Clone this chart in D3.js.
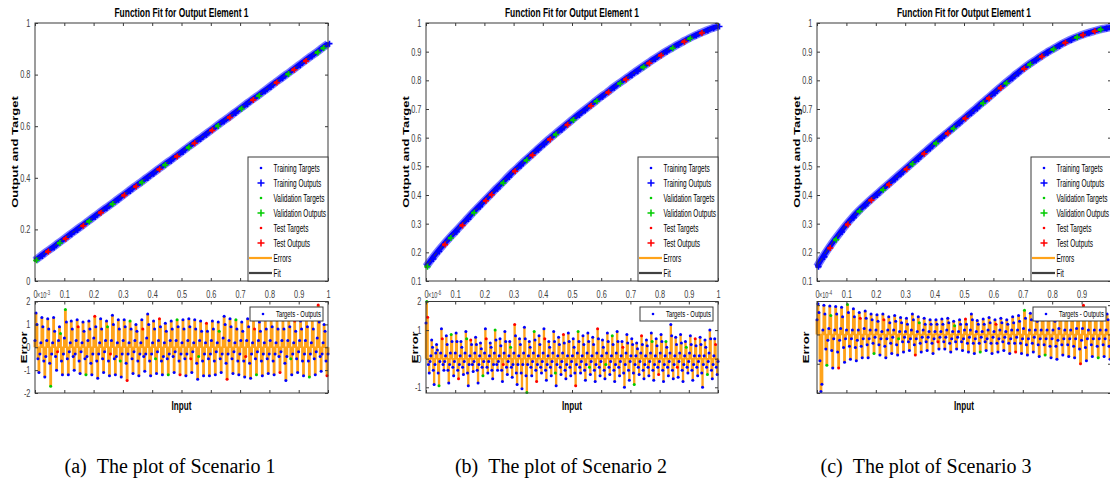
<!DOCTYPE html>
<html>
<head>
<meta charset="utf-8">
<script src="https://cdn.jsdelivr.net/npm/d3@7"></script>
<style>
  body { margin: 0; background: #fff; }
  svg { display: block; }
</style>
</head>
<body>
<svg width="1110" height="484"></svg>
<script>
// ---- data ----
const fitStep = 0.02
const fit1 = [0.080, 0.097, 0.114, 0.130, 0.147, 0.164, 0.181, 0.198, 0.214, 0.231,
  0.248, 0.265, 0.282, 0.298, 0.315, 0.332, 0.349, 0.366, 0.382, 0.399,
  0.416, 0.433, 0.450, 0.466, 0.483, 0.500, 0.517, 0.534, 0.550, 0.567,
  0.584, 0.601, 0.618, 0.634, 0.651, 0.668, 0.685, 0.702, 0.718, 0.735,
  0.752, 0.769, 0.786, 0.802, 0.819, 0.836, 0.853, 0.870, 0.886, 0.903, 0.920]
const fit2 = [0.150, 0.177, 0.203, 0.227, 0.250, 0.272, 0.294, 0.316, 0.338, 0.359,
  0.380, 0.401, 0.422, 0.442, 0.463, 0.483, 0.502, 0.521, 0.539, 0.558,
  0.576, 0.594, 0.611, 0.628, 0.645, 0.662, 0.679, 0.695, 0.711, 0.727,
  0.743, 0.758, 0.774, 0.789, 0.803, 0.818, 0.832, 0.846, 0.860, 0.874,
  0.887, 0.900, 0.912, 0.924, 0.935, 0.946, 0.956, 0.965, 0.974, 0.982, 0.988]
const fit3 = [0.150, 0.184, 0.215, 0.244, 0.271, 0.297, 0.321, 0.343, 0.363, 0.382,
  0.400, 0.418, 0.436, 0.454, 0.472, 0.490, 0.508, 0.526, 0.544, 0.562,
  0.580, 0.598, 0.615, 0.632, 0.650, 0.667, 0.685, 0.702, 0.720, 0.737,
  0.755, 0.773, 0.790, 0.807, 0.824, 0.840, 0.855, 0.869, 0.883, 0.896,
  0.908, 0.920, 0.931, 0.941, 0.950, 0.958, 0.965, 0.971, 0.977, 0.981, 0.985]
// b = training, g = validation, r = test
const fitSets1 = "gbrbgrbbrgbrbgbrbrgbbrgbrbgrbbrgbrbgbrgbbrbgrbrbgg"
const fitSets2 = "gbbrgbrbgbrrbgbrbgrbbrgbrgbbrgbrbgrbbgrbrbgbrgbrbb"
const fitSets3 = "bbrgbrbgbrbgrbbrgbrbgbrgbrbbgrbrgbbrgbrbgbrbgrbrgb"

// errors, one cycle per row: [rise, peak, fall, dip, trough, back]
const err1 = [ // x 1e-3
  [0.3,1.5,1.0,-0.5,-1.1,-0.3], [0.2,1.3,0.9,-0.6,-1.3,-0.4], [0.3,1.25,0.8,-0.7,-1.7,-0.3],
  [0.2,1.3,0.7,-0.4,-1.0,-0.2], [0.3,0.9,0.6,-0.6,-1.2,-0.3], [0.4,1.65,1.1,-0.5,-1.2,-0.2],
  [0.2,1.15,0.8,-0.4,-1.0,-0.3], [0.3,1.2,0.9,-0.6,-1.15,-0.2], [0.2,1.1,0.7,-0.5,-1.2,-0.4],
  [0.3,1.15,0.8,-0.7,-1.2,-0.3], [0.4,1.35,0.9,-0.6,-1.35,-0.3], [0.2,1.25,0.8,-0.5,-1.1,-0.2],
  [0.3,1.15,0.9,-0.6,-1.25,-0.3], [0.3,1.4,1.0,-0.5,-1.2,-0.4], [0.2,1.2,0.8,-0.6,-1.3,-0.3],
  [0.3,1.2,0.9,-0.7,-1.45,-0.3], [0.2,1.15,0.8,-0.5,-1.15,-0.2], [0.3,1.0,0.7,-0.6,-1.25,-0.3],
  [0.2,1.2,0.8,-0.4,-1.05,-0.3], [0.4,1.45,1.0,-0.6,-1.25,-0.3], [0.2,1.15,0.8,-0.5,-1.15,-0.2],
  [0.3,1.25,0.9,-0.6,-1.2,-0.4], [0.2,1.05,0.7,-0.5,-1.2,-0.3], [0.3,1.15,0.8,-0.4,-1.1,-0.2],
  [0.3,1.2,0.9,-0.6,-1.2,-0.3], [0.2,1.2,0.8,-0.5,-1.25,-0.3], [0.3,1.25,0.9,-0.5,-1.1,-0.2],
  [0.2,1.2,0.8,-0.7,-1.4,-0.4], [0.3,1.15,0.7,-0.6,-1.25,-0.3], [0.2,1.05,0.7,-0.5,-1.25,-0.3],
  [0.3,1.15,0.8,-0.6,-1.2,-0.2], [0.2,1.1,0.7,-0.5,-1.1,-0.3], [0.4,1.35,1.0,-0.7,-1.4,-0.3],
  [0.3,1.25,0.9,-0.5,-1.15,-0.2], [0.2,1.2,0.8,-0.6,-1.2,-0.3], [0.3,1.1,0.7,-0.6,-1.3,-0.4],
  [0.3,1.25,0.9,-0.7,-1.35,-0.3], [0.2,1.2,0.8,-0.5,-1.2,-0.2], [0.3,1.1,0.7,-0.6,-1.25,-0.3],
  [0.2,1.2,0.8,-0.5,-1.15,-0.3], [0.3,1.25,0.9,-0.6,-1.2,-0.3], [0.2,1.2,0.8,-0.4,-1.1,-0.2],
  [0.3,1.2,0.8,-0.7,-1.45,-0.4], [0.3,1.25,0.9,-0.5,-1.2,-0.3], [0.2,1.15,0.7,-0.5,-1.1,-0.2],
  [0.3,1.15,0.8,-0.6,-1.25,-0.3], [0.3,1.3,0.9,-0.6,-1.3,-0.3], [0.2,1.2,0.8,-0.5,-1.2,-0.2],
  [0.4,1.85,1.1,-0.4,-1.05,-0.3], [0.2,1.0,0.7,-0.6,-1.25,-0.3]]
const err2 = [ // x 1e-6
  [1.25,2.0,1.45,-0.2,-0.5,-0.1], [0.1,0.65,0.4,-0.4,-0.9,-0.2], [0.2,0.5,0.3,-0.5,-0.95,-0.1],
  [0.2,1.05,0.7,-0.2,-0.4,-0.1], [0.1,0.8,0.5,-0.4,-0.85,-0.2], [0.2,0.85,0.6,-0.3,-0.6,-0.1],
  [0.2,0.9,0.6,-0.4,-0.7,-0.2], [0.1,0.6,0.4,-0.3,-0.55,-0.1], [0.2,0.95,0.7,-0.5,-0.95,-0.2],
  [0.1,0.65,0.5,-0.2,-0.45,-0.1], [0.2,0.75,0.5,-0.4,-0.85,-0.2], [0.1,0.55,0.35,-0.3,-0.6,-0.1],
  [0.2,1.05,0.7,-0.3,-0.5,-0.1], [0.1,0.55,0.4,-0.4,-0.7,-0.2], [0.2,1.0,0.65,-0.2,-0.4,-0.1],
  [0.1,0.7,0.45,-0.4,-0.8,-0.2], [0.2,0.95,0.6,-0.3,-0.55,-0.1], [0.1,0.6,0.4,-0.3,-0.65,-0.2],
  [0.2,1.2,0.8,-0.5,-0.9,-0.2], [0.1,0.7,0.5,-0.5,-1.05,-0.2], [0.2,1.1,0.7,-0.6,-1.18,-0.2],
  [0.1,0.6,0.4,-0.3,-0.6,-0.1], [0.2,0.95,0.65,-0.4,-0.8,-0.2], [0.1,0.8,0.5,-0.3,-0.5,-0.1],
  [0.2,1.05,0.7,-0.4,-0.75,-0.2], [0.1,0.6,0.4,-0.3,-0.6,-0.1], [0.2,0.95,0.6,-0.5,-0.95,-0.2],
  [0.1,0.75,0.5,-0.3,-0.55,-0.1], [0.2,0.85,0.55,-0.4,-0.7,-0.2], [0.1,0.9,0.6,-0.3,-0.6,-0.1],
  [0.1,0.7,0.4,-0.5,-0.95,-0.2], [0.2,0.95,0.6,-0.3,-0.5,-0.1], [0.1,0.8,0.5,-0.4,-0.75,-0.2],
  [0.2,0.9,0.6,-0.3,-0.55,-0.1], [0.1,0.75,0.5,-0.4,-0.8,-0.2], [0.2,1.05,0.7,-0.3,-0.6,-0.1],
  [0.1,0.65,0.4,-0.4,-0.7,-0.2], [0.2,0.9,0.6,-0.3,-0.55,-0.1], [0.1,0.8,0.5,-0.4,-0.8,-0.2],
  [0.2,0.95,0.6,-0.3,-0.6,-0.1], [0.1,0.6,0.4,-0.5,-1.0,-0.2], [0.2,0.85,0.55,-0.4,-0.75,-0.1],
  [0.1,0.7,0.5,-0.5,-0.9,-0.2], [0.1,0.55,0.35,-0.3,-0.55,-0.1], [0.2,0.8,0.5,-0.4,-0.7,-0.2],
  [0.1,0.65,0.45,-0.3,-0.6,-0.1], [0.2,0.9,0.6,-0.4,-0.75,-0.2], [0.1,0.7,0.45,-0.3,-0.55,-0.1],
  [0.2,0.85,0.6,-0.4,-0.8,-0.2], [0.1,0.6,0.4,-0.3,-0.6,-0.1], [0.2,1.2,0.8,-0.4,-0.7,-0.2],
  [0.1,0.75,0.5,-0.3,-0.65,-0.1], [0.2,0.85,0.55,-0.4,-0.8,-0.2], [0.1,0.6,0.4,-0.3,-0.5,-0.1],
  [0.2,0.8,0.5,-0.4,-0.75,-0.2], [0.1,0.7,0.45,-0.3,-0.6,-0.1], [0.1,0.75,0.5,-0.5,-1.0,-0.2],
  [0.1,0.65,0.4,-0.3,-0.55,-0.1], [0.2,1.0,0.7,-0.4,-0.7,-0.2], [0.1,0.7,0.5,-0.3,-0.55,-0.1]]
const err3 = [ // x 1e-4
  [1.0,2.1,1.5,-1.8,-3.9,-3.4], [0.3,2.0,1.4,-1.0,-2.1,-0.4], [0.4,1.95,1.3,-1.1,-2.3,-0.3],
  [0.3,1.9,1.4,-1.2,-2.3,-0.4], [0.4,1.85,1.2,-0.9,-1.9,-0.3], [0.3,2.05,1.5,-0.8,-1.7,-0.3],
  [0.3,1.75,1.2,-0.9,-1.8,-0.4], [0.3,1.5,1.1,-0.8,-1.6,-0.3], [0.4,1.6,1.1,-0.7,-1.6,-0.3],
  [0.3,1.4,1.0,-0.6,-1.3,-0.2], [0.3,1.35,0.9,-0.7,-1.4,-0.3], [0.2,1.4,1.0,-0.8,-1.6,-0.3],
  [0.3,1.2,0.8,-0.6,-1.3,-0.2], [0.3,1.3,0.9,-0.7,-1.4,-0.3], [0.2,1.15,0.8,-0.5,-1.2,-0.2],
  [0.2,1.1,0.7,-0.5,-1.1,-0.3], [0.3,1.4,1.0,-0.7,-1.4,-0.3], [0.2,1.2,0.8,-0.6,-1.2,-0.2],
  [0.3,1.1,0.7,-0.5,-1.1,-0.2], [0.2,1.0,0.7,-0.6,-1.3,-0.3], [0.2,1.0,0.7,-0.5,-1.0,-0.2],
  [0.2,1.05,0.7,-0.5,-1.0,-0.2], [0.3,1.1,0.8,-0.6,-1.2,-0.3], [0.2,0.9,0.6,-0.5,-1.0,-0.2],
  [0.2,1.0,0.7,-0.5,-1.1,-0.3], [0.3,1.05,0.7,-0.6,-1.2,-0.2], [0.3,1.4,1.0,-0.6,-1.3,-0.3],
  [0.2,0.95,0.7,-0.6,-1.2,-0.2], [0.2,1.05,0.7,-0.5,-1.1,-0.3], [0.3,1.15,0.8,-0.6,-1.3,-0.2],
  [0.2,1.0,0.7,-0.6,-1.2,-0.3], [0.3,1.1,0.8,-0.5,-1.1,-0.2], [0.2,1.0,0.7,-0.6,-1.3,-0.3],
  [0.3,1.2,0.8,-0.6,-1.2,-0.2], [0.3,1.3,0.9,-0.6,-1.3,-0.3], [0.4,1.65,1.1,-0.7,-1.4,-0.3],
  [0.3,1.45,1.0,-0.6,-1.2,-0.2], [0.3,1.3,0.9,-0.7,-1.5,-0.3], [0.3,1.4,1.0,-0.7,-1.4,-0.3],
  [0.3,1.4,1.0,-0.8,-1.6,-0.3], [0.3,1.35,0.9,-0.8,-1.7,-0.4], [0.4,1.5,1.1,-0.7,-1.4,-0.3],
  [0.3,1.5,1.0,-0.7,-1.5,-0.3], [0.3,1.4,1.0,-0.8,-1.6,-0.3], [0.4,1.6,1.1,-1.0,-2.0,-0.4],
  [0.4,2.0,1.4,-0.9,-1.8,-0.3], [0.3,1.5,1.0,-0.7,-1.5,-0.3], [0.3,1.6,1.1,-0.8,-1.6,-0.3],
  [0.3,1.5,1.0,-0.7,-1.5,-0.3], [0.3,1.4,1.0,-0.8,-1.7,-0.4]]
const errSets1 = "bbbbbb bbbbbb bbbbgb bbbbbr bbgbbb bgbbbb bbbbbb bbrbbb bbbbgb bbbbbb " +
  "brbbbb bbbbbb bbgbbr bbbbbb bbbgbb bbbbrb bgbbbb bbbbbb bbrbbb bbbbbb " +
  "bbbgbb brbbbb bbbbgb bbbbbb bgbbrb bbbbbb bbbrbb bbbbbg bbbbbb brbbbb " +
  "bbbbbb bbgbbb bbbbrb bbbbbb bgbbbb bbbbbr bbbbbb bbrbgb bbbbbb bbbbbb " +
  "bgbbbb bbbbrb bbbbbb bbbgbb brbbbb bbbbbb bbbbgb bbbbbb brbbbb bbbbrb"
const errSets2 = "bgrbbb bbbbbb bbbbgb bbrbbb bbbbbb bgbbbb bbbbrb bbbbbb bbgbbb brbbbb " +
  "bbbbbb bbbbgb bbrbbb bbbbbb bgbbbb bbbbbr bbbbbb bbgbbb brbbbb bbbbbb " +
  "bbbbgb bbbbbb bgbbrb bbbbbb bbrbbb bbbbbb bbbgbb bbbbbb brbbbb bbbbbb " +
  "bbbbrb bgbbbb bbbbbb bbbgbb bbbbbb brbbbb bbbbbg bbbbbb bgbbbb bbbbbb " +
  "bbrbbb bbbbbb bbbbgb bbbbbb brbbbb bbbbbb bbgbbb bbbbrb bbbbbb bgbbbb " +
  "bbbbbb bbbrbb bbbbbb bbgbbb bbbbbb brbbbb bbbbbb bbbbgb bbbbbb bbrbbb"
const errSets3 = "bbbbbb bbbbgb bbgbbb bbbbrb bbbbbb bgbbbb bbbbbb bbrbbb bbbbbb bbbbgb " +
  "bbbbbb bbrbbb bbbbbb bbbbbg bbbbbb bbbbbb bbbbrb bbgbbb bbbbbb bbbbbb " +
  "bbbrbb bbbbbb bbbbbb bbgbbb bbbbbb brbbbb bbbbbb bbbbgb bbbbbb bbbbbb " +
  "bbrbbb bbbbbb bbbbbb bbbbrb bbbbbb bgbbbb bbbbbb bbbbbb bbrbgb bbbbbb " +
  "bbbbbb bbbbbb bbgbbb bbbbbb bbbbrb brbbbb bbbbbb bbbbgb bbbbbb bbbbbb"

const xTicks = [0, 0.1, 0.2, 0.3, 0.4, 0.5, 0.6, 0.7, 0.8, 0.9, 1]
const fitTicks1 = [0, 0.2, 0.4, 0.6, 0.8, 1]
const fitTicks23 = [0.1, 0.2, 0.3, 0.4, 0.5, 0.6, 0.7, 0.8, 0.9, 1]
const errTicks1 = [-2, -1, 0, 1, 2]
const errTicks2 = [-1, 0, 1, 2]
const errTicks3 = [-4, -2, 0, 2]
const errExponents = ['-3', '-6', '-4']
const legendLabels = ['Training Targets', 'Training Outputs', 'Validation Targets',
  'Validation Outputs', 'Test Targets', 'Test Outputs', 'Errors', 'Fit']
const captions = ['(a)\u2002The plot of Scenario 1', '(b)\u2002The plot of Scenario 2',
  '(c)\u2002The plot of Scenario 3']

// ---- layout ----
const panels = [
  {left: 35, right: 328, fit: fit1, fitSets: fitSets1, fitDomain: [0, 1], fitTicks: fitTicks1,
   err: err1, errSets: errSets1, errDomain: [-2, 2], errTicks: errTicks1, capX: 170},
  {left: 426, right: 718, fit: fit2, fitSets: fitSets2, fitDomain: [0.1, 1], fitTicks: fitTicks23,
   err: err2, errSets: errSets2, errDomain: [-1.2, 2], errTicks: errTicks2, capX: 561},
  {left: 817, right: 1111, fit: fit3, fitSets: fitSets3, fitDomain: [0.1, 1], fitTicks: fitTicks23,
   err: err3, errSets: errSets3, errDomain: [-4, 2.25], errTicks: errTicks3, capX: 926}
]
const fitTop = 23, fitBottom = 281, errTop = 301.5, errBottom = 393
const SX = 0.65               // the figure is squeezed horizontally
const SANS = "'Liberation Sans', Arial, Helvetica, sans-serif"
const setColor = {b: '#0000ff', g: '#00cc00', r: '#ff0000'}
const orange = '#ffa31a'
const axisColor = '#3a3a3a'

const svg = d3.select('svg')

function squeezed(g, x, y, txt, size, opts = {}) {
  let t = g.append('text')
    .attr('transform', `translate(${x},${y}) scale(${SX},1)` + (opts.rotate ? ' rotate(-90)' : ''))
    .attr('text-anchor', opts.anchor || 'start')
    .attr('font-family', SANS)
    .attr('font-size', size)
    .attr('font-weight', opts.bold ? 'bold' : 'normal')
    .attr('fill', opts.fill || '#000')
    .text(txt)
  return t
}

function ticks(g, axisFn, scale, tx, ty, values, withLabels, pad) {
  let ax = axisFn(scale)
    .tickValues(values)
    .tickSizeInner(-3)
    .tickSizeOuter(0)
    .tickPadding(pad || 3)
    .tickFormat(withLabels ? d => String(+d.toFixed(2)) : '')
  let a = g.append('g').attr('transform', `translate(${tx},${ty})`).call(ax)
  a.select('.domain').remove()
  a.selectAll('line').attr('stroke', axisColor)
  a.selectAll('text')
    .attr('font-family', SANS)
    .attr('font-size', 10.5)
    .attr('fill', '#404040')
    .attr('transform', 'scale(0.7,1)')
  // labels falling off the right edge of the page are not shown
  a.selectAll('.tick').filter(d => tx + scale(d) > 1106).select('text').remove()
}

function plus(g, cx, cy, size, color, width) {
  g.append('path')
    .attr('d', `M${cx - size},${cy}H${cx + size}M${cx},${cy - size}V${cy + size}`)
    .attr('stroke', color)
    .attr('stroke-width', width)
}

function drawPanel(p, idx) {
  let g = svg.append('g')
  let x = d3.scaleLinear().domain([0, 1]).range([p.left, p.right])
  let yF = d3.scaleLinear().domain(p.fitDomain).range([fitBottom, fitTop])
  let yE = d3.scaleLinear().domain(p.errDomain).range([errBottom, errTop])
  let midX = (p.left + p.right) / 2

  // ---- upper axes: function fit ----
  let fitPts = p.fit.map((v, i) => ({x: i * fitStep, y: v, s: p.fitSets[i] || 'b'}))
  let line = d3.line().x(d => x(d.x)).y(d => yF(d.y)).curve(d3.curveMonotoneX)

  g.append('path').datum(fitPts).attr('d', line)
    .attr('fill', 'none').attr('stroke', '#7a7aff').attr('stroke-width', 8)
  g.append('path').datum(fitPts).attr('d', line)
    .attr('fill', 'none').attr('stroke', '#0000ff').attr('stroke-width', 5)
  g.append('path').datum(fitPts).attr('d', line)
    .attr('fill', 'none').attr('stroke', '#404040').attr('stroke-width', 1)

  fitPts.forEach(d => {
    g.append('circle').attr('cx', x(d.x)).attr('cy', yF(d.y)).attr('r', 1.6)
      .attr('fill', setColor[d.s])
    plus(g, x(d.x) + 1.5, yF(d.y), 3, setColor[d.s], 1.6)
  })

  g.append('rect')
    .attr('x', p.left).attr('y', fitTop)
    .attr('width', p.right - p.left).attr('height', fitBottom - fitTop)
    .attr('fill', 'none').attr('stroke', axisColor).attr('stroke-width', 1)
  ticks(g, d3.axisLeft, yF, p.left, 0, p.fitTicks, true, 6.5)
  ticks(g, d3.axisRight, yF, p.right, 0, p.fitTicks, false)
  ticks(g, d3.axisBottom, x, 0, fitBottom, xTicks, false)
  ticks(g, d3.axisTop, x, 0, fitTop, xTicks, false)

  squeezed(g, midX, 16.5, 'Function Fit for Output Element 1', 13, {anchor: 'middle', bold: true})
  squeezed(g, p.left - 17.5, (fitTop + fitBottom) / 2, 'Output and Target', 13,
    {anchor: 'middle', bold: true, rotate: true})

  // legend
  let lw = 80, lx = p.right - lw, ly = 157
  g.append('rect').attr('x', lx).attr('y', ly).attr('width', lw).attr('height', fitBottom - ly)
    .attr('fill', '#fff').attr('stroke', axisColor).attr('stroke-width', 1)
  let legendSets = ['b', 'b', 'g', 'g', 'r', 'r']
  legendLabels.forEach((lab, i) => {
    let cy = 168 + i * 15
    if (i < 6) {
      if (i % 2 === 0) {
        g.append('circle').attr('cx', lx + 13).attr('cy', cy).attr('r', 1.3)
          .attr('fill', setColor[legendSets[i]])
      } else {
        plus(g, lx + 13, cy, 3.5, setColor[legendSets[i]], 1.5)
      }
    } else {
      g.append('line').attr('x1', lx + 1).attr('x2', lx + 24).attr('y1', cy).attr('y2', cy)
        .attr('stroke', i === 6 ? orange : '#404040').attr('stroke-width', 2.2)
    }
    squeezed(g, lx + 25.5, cy + 3.5, lab, 10)
  })

  // ---- lower axes: errors ----
  let vals = p.err.flat()
  let n = vals.length
  let sets = p.errSets.replace(/ /g, '')
  let errPts = vals.map((v, i) => ({x: i / (n - 1), e: v, s: sets[i] || 'b'}))
  let stemW = (p.right - p.left) / n * 2.9

  g.selectAll(null).data(errPts).enter().append('line')
    .attr('x1', d => x(d.x)).attr('x2', d => x(d.x))
    .attr('y1', yE(0)).attr('y2', d => yE(d.e))
    .attr('stroke', orange).attr('stroke-width', stemW)
  g.append('line').attr('x1', p.left).attr('x2', p.right).attr('y1', yE(0)).attr('y2', yE(0))
    .attr('stroke', orange).attr('stroke-width', 1.6)
  g.selectAll(null).data(errPts).enter().append('circle')
    .attr('cx', d => x(d.x)).attr('cy', d => yE(d.e)).attr('r', 1.5)
    .attr('fill', d => setColor[d.s])

  g.append('rect')
    .attr('x', p.left).attr('y', errTop)
    .attr('width', p.right - p.left).attr('height', errBottom - errTop)
    .attr('fill', 'none').attr('stroke', axisColor).attr('stroke-width', 1)
  ticks(g, d3.axisLeft, yE, p.left, 0, p.errTicks, true, 6.5)
  ticks(g, d3.axisRight, yE, p.right, 0, p.errTicks, false)
  ticks(g, d3.axisTop, x, 0, errTop, xTicks, true, 3.5)
  ticks(g, d3.axisBottom, x, 0, errBottom, xTicks, false)

  // exponent label of the error axis
  let ex = squeezed(g, p.left + 2, 298, '\u00d710', 8.5, {fill: '#404040'})
  ex.append('tspan').attr('dy', -3).attr('font-size', 6.5).text(errExponents[idx])

  // error legend
  let ew = 73, ex0 = p.right - 5 - ew, ey = 307
  g.append('rect').attr('x', ex0).attr('y', ey).attr('width', ew).attr('height', 14)
    .attr('fill', '#fff').attr('stroke', axisColor).attr('stroke-width', 1)
  g.append('circle').attr('cx', ex0 + 13).attr('cy', ey + 7).attr('r', 1.3).attr('fill', setColor.b)
  squeezed(g, ex0 + 26, ey + 10.2, 'Targets - Outputs', 9)

  squeezed(g, p.left - 8.5, (errTop + errBottom) / 2, 'Error', 13,
    {anchor: 'middle', bold: true, rotate: true})
  squeezed(g, midX, 409.5, 'Input', 12.5, {anchor: 'middle', bold: true})

  // caption under the sub-figure
  svg.append('text')
    .attr('x', p.capX).attr('y', 473)
    .attr('text-anchor', 'middle')
    .attr('font-family', "'Liberation Serif', 'Times New Roman', serif")
    .attr('font-size', 20)
    .text(captions[idx])
}

panels.forEach(drawPanel)
</script>
</body>
</html>
